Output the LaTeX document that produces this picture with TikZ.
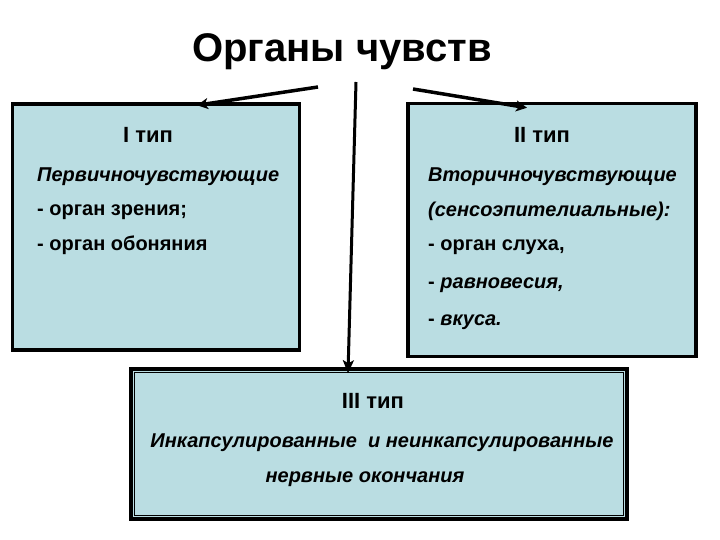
\documentclass[tikz,border=0pt]{standalone}
\usepackage{fontspec}
\setmainfont{Liberation Sans}
\usetikzlibrary{arrows.meta,calc}
\definecolor{boxfill}{HTML}{BADDE2}
\begin{document}
\begin{tikzpicture}[x=1pt,y=-1pt,
  typebox/.style={draw=black,line width=3.5pt,fill=boxfill,inner sep=0pt},
  hd/.style={anchor=base,font=\fontsize{22}{22}\selectfont\bfseries,inner sep=0pt},
  ln/.style={anchor=base west,font=\fontsize{20}{20}\selectfont\bfseries,inner sep=0pt},
  lni/.style={ln,font=\fontsize{20}{20}\selectfont\bfseries\itshape},
  arr/.style={line width=3.5pt,-{Stealth[length=11pt,width=11pt,inset=3pt]}}]
\useasboundingbox (0,0) rectangle (720,540);
\fill[white] (0,0) rectangle (720,540);
% boxes
\node[typebox,minimum width=287pt,minimum height=246pt] (b1) at (156,227) {};
\node[typebox,minimum width=288pt,minimum height=253pt] (b2) at (552,230) {};
\node[typebox,minimum width=496pt,minimum height=150pt] (b3) at (379,444) {};
\draw[line width=1pt] ($(b3.north west)+(5,5)$) rectangle ($(b3.south east)+(-5,-5)$);
% title
\node[anchor=base,inner sep=0pt,font=\fontsize{40}{40}\selectfont\bfseries] (t) at (342,62) {Органы чувств};
% box 1 text
\node[hd] (h1) at (148,143) {I тип};
\node[lni] (l11) at (37,182) {Первичночувствующие};
\node[ln] (l12) at (37,215) {- орган зрения;};
\node[ln] (l13) at (37,250) {- орган обоняния};
% box 2 text
\node[hd] (h2) at (542,143) {II тип};
\node[lni] (l21) at (428,182) {Вторичночувствующие};
\node[lni] (l22) at (428,217) {(сенсоэпителиальные):};
\node[ln] (l23) at (428,251) {- орган слуха,};
\node[ln] (l24) at (428,288) {- \textit{равновесия,}};
\node[ln] (l25) at (428,325) {- \textit{вкуса.}};
% box 3 text
\node[hd] (h3) at (373,408) {III тип};
\node[lni,anchor=base] (l31) at (382,447) {Инкапсулированные\ \ и неинкапсулированные};
\node[lni,anchor=base] (l32) at (365,482) {нервные окончания};
% arrows
\coordinate (s1) at (318,87);
\coordinate (s2) at (413,89);
\coordinate (s3) at (356,82);
\draw[arr] (s1) -- ([xshift=41pt,yshift=-3pt]b1.north);
\draw[arr] (s2) -- ([xshift=-25pt,yshift=-6pt]b2.north);
\draw[line width=3pt,-{Stealth[length=13pt,width=11pt,inset=3pt]}] (s3) -- ([xshift=-31pt,yshift=-6pt]b3.north);
\end{tikzpicture}
\end{document}
